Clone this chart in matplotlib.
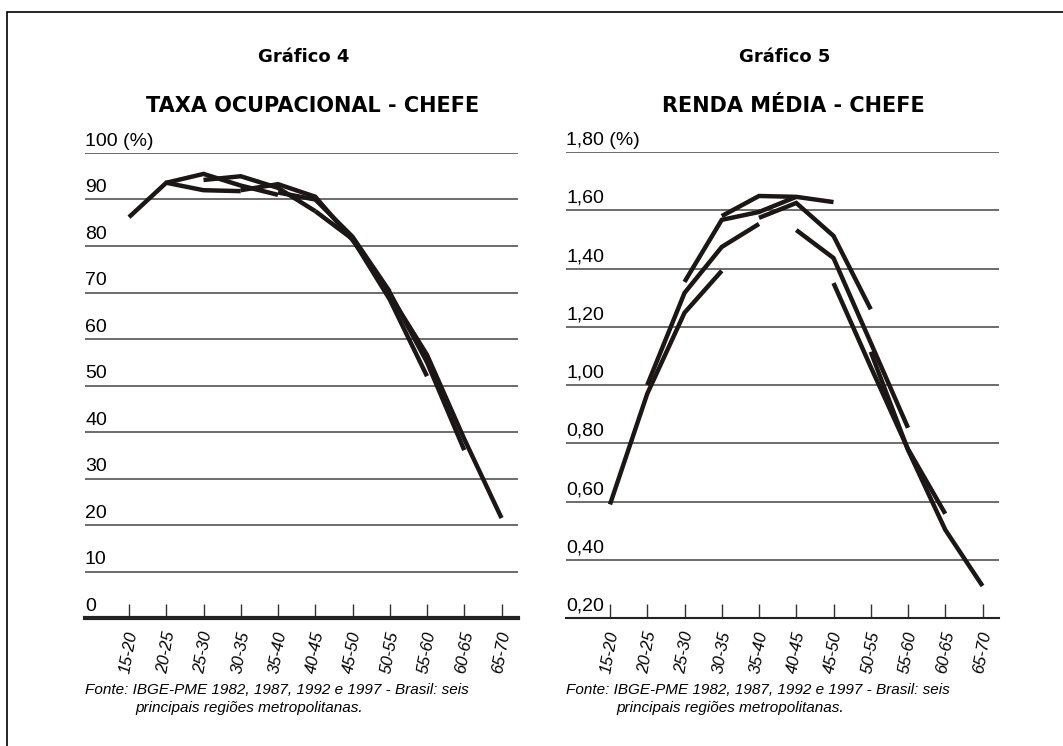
import matplotlib
matplotlib.use("Agg")
import matplotlib.pyplot as plt
import matplotlib.transforms as mtransforms
from matplotlib.patches import Rectangle

plt.rcParams['font.family'] = ['Liberation Sans', 'DejaVu Sans']

# faixas etárias
faixas = ['15-20', '20-25', '25-30', '30-35', '35-40', '40-45',
          '45-50', '50-55', '55-60', '60-65', '65-70']

# coortes (1982, 1987, 1992, 1997) - índice da faixa inicial
inicio_coorte = [0, 1, 2, 3, 4, 5, 6, 7]

# Gráfico 4 - taxa ocupacional do chefe (%)
taxa_c0 = [86.2, 93.6, 92.0, 91.8]
taxa_c1 = [93.6, 95.5, 93.0, 91.0]
taxa_c2 = [94.2, 95.0, 92.5, 87.5]
taxa_c3 = [92.0, 93.3, 90.6, 81.3]
taxa_c4 = [91.5, 90.0, 82.0, 70.2]
taxa_c5 = [87.5, 81.5, 68.5, 52.0]
taxa_c6 = [81.3, 70.0, 55.0, 36.1]
taxa_c7 = [69.5, 56.6, 38.5, 21.5]
taxa = [taxa_c0, taxa_c1, taxa_c2, taxa_c3, taxa_c4, taxa_c5, taxa_c6, taxa_c7]

# Gráfico 5 - renda média do chefe
renda_c0 = [0.59, 0.97, 1.248, 1.392]
renda_c1 = [1.00, 1.316, 1.474, 1.553]
renda_c2 = [1.354, 1.567, 1.594, 1.646]
renda_c3 = [1.58, 1.649, 1.646, 1.628]
renda_c4 = [1.574, 1.625, 1.512, 1.26]
renda_c5 = [1.532, 1.436, 1.145, 0.853]
renda_c6 = [1.35, 1.062, 0.78, 0.558]
renda_c7 = [1.114, 0.777, 0.503, 0.31]
renda = [renda_c0, renda_c1, renda_c2, renda_c3, renda_c4, renda_c5, renda_c6, renda_c7]

ticks_taxa = [0, 10, 20, 30, 40, 50, 60, 70, 80, 90, 100]
labels_taxa = ['0', '10', '20', '30', '40', '50', '60', '70', '80', '90', '100 (%)']
ticks_renda = [0.2, 0.4, 0.6, 0.8, 1.0, 1.2, 1.4, 1.6, 1.8]
labels_renda = ['0,20', '0,40', '0,60', '0,80', '1,00', '1,20', '1,40', '1,60', '1,80 (%)']

fonte = 'Fonte: IBGE-PME 1982, 1987, 1992 e 1997 - Brasil: seis'
fonte2 = 'principais regiões metropolitanas.'

W, H = 1063, 746
fig = plt.figure(figsize=(W / 100, H / 100), dpi=100)
fig.patches.append(Rectangle((7 / W, -0.1), 1.2, 1 - 12 / H + 0.1, transform=fig.transFigure,
                             fill=False, edgecolor='black', linewidth=1.2))

cor_linha = '#1c1616'


def painel(x0, x1, y_top, y_bot, series, ticks, labels, ylim, titulo1, titulo2, spine_lw):
    ax = fig.add_axes([x0 / W, 1 - y_bot / H, (x1 - x0) / W, (y_bot - y_top) / H])
    x_first, step = x0 + 44, 37.25
    ax.set_xlim(-(x_first - x0) / step, -(x_first - x0) / step + (x1 - x0) / step)
    ax.set_ylim(*ylim)
    for s in ['top', 'left', 'right']:
        ax.spines[s].set_visible(False)
    ax.spines['bottom'].set_linewidth(spine_lw)
    ax.spines['bottom'].set_color('#222')
    ax.set_xticks(range(len(faixas)))
    ax.set_xticklabels([])
    ax.tick_params(axis='x', direction='in', length=10, width=1, color='#333')
    ax.set_yticks([])
    trans = mtransforms.blended_transform_factory(ax.transAxes, ax.transData)
    for t, lab in zip(ticks, labels):
        if t != ylim[0]:
            ax.axhline(t, color='#444', linewidth=1.1, zorder=1)
        ax.annotate(lab, xy=(0, t), xycoords=trans, xytext=(0, 2.5), textcoords='offset points',
                    fontsize=14, va='bottom', ha='left')
    for ini, vals in zip(inicio_coorte, series):
        xs = list(range(ini, ini + len(vals)))
        ax.plot(xs, vals, color=cor_linha, linewidth=3.2, solid_capstyle='butt',
                solid_joinstyle='miter', zorder=3, clip_on=False)
    tx = mtransforms.blended_transform_factory(ax.transData, ax.transAxes)
    for i, f in enumerate(faixas):
        ax.text(i + 0.3, -0.025, f, transform=tx, rotation=80, ha='right', va='top',
                fontsize=12, style='italic')
    cx = (x0 + x1) / 2 / W
    fig.text(cx + 0.002, 1 - 57 / H, titulo1, ha='center', va='center', fontsize=13,
             fontweight='bold', family=['DejaVu Sans'])
    fig.text(cx + 0.01, 1 - 106 / H, titulo2, ha='center', va='center', fontsize=15,
             fontweight='bold', family=['DejaVu Sans'])
    fig.text(x0 / W, 1 - 690 / H, fonte, ha='left', va='center', fontsize=11, style='italic')
    fig.text((x0 + 50) / W, 1 - 708 / H, fonte2, ha='left', va='center', fontsize=11,
             style='italic')
    return ax


painel(85, 518, 153, 618, taxa, ticks_taxa, labels_taxa, (0, 100),
       'Gráfico 4', 'TAXA OCUPACIONAL - CHEFE', 3.0)
painel(566, 999, 152, 618, renda, ticks_renda, labels_renda, (0.2, 1.8),
       'Gráfico 5', 'RENDA MÉDIA - CHEFE', 1.5)

fig.savefig('out.png', dpi=100)
